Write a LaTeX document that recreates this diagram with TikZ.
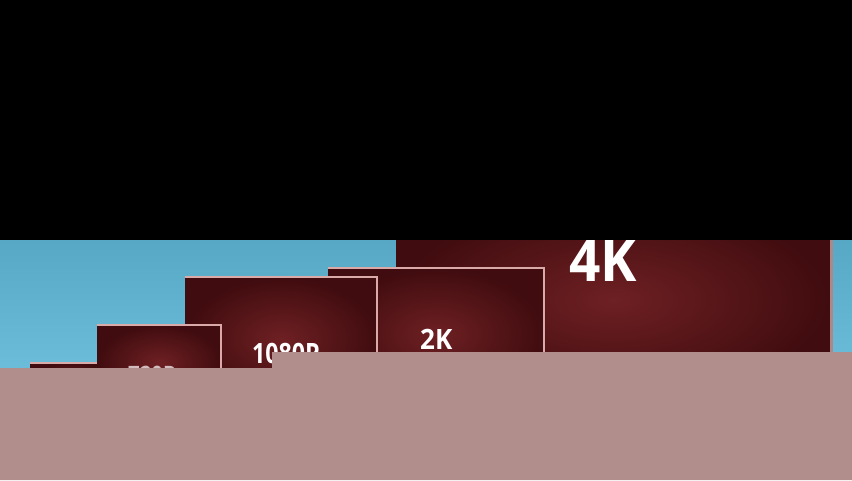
\documentclass[tikz,border=0pt]{standalone}
\usepackage{fontspec}
\setmainfont{Open Sans}
\definecolor{skytop}{HTML}{57A8C5}
\definecolor{skybot}{HTML}{6CBDDA}
\definecolor{panelin}{HTML}{6E2023}
\definecolor{panelout}{HTML}{400C0F}
\definecolor{rim}{HTML}{D9AAA8}
\definecolor{band}{HTML}{B18D8C}
\tikzset{
  panel/.style={inner color=panelin, outer color=panelout},
  rimline/.style={draw=rim, line width=2pt, line cap=rect},
  label/.style={inner sep=0pt, anchor=base west, text=white, font=\bfseries}
}
\begin{document}
\begin{tikzpicture}[x=1pt,y=-1pt]
\useasboundingbox (0,0) rectangle (852,480);
\fill[black] (0,0) rectangle (852,480);
\shade[top color=skytop, bottom color=skybot] (0,240) rectangle (852,372);
% 4K panel
\shade[panel] (396,200) rectangle (831,400);
\draw[draw=rim!80!black, line width=2.5pt] (831.5,200) -- (831.5,400);
\node[label, font=\bfseries\fontsize{59}{59}\selectfont, xscale=0.93] (t4k) at (569,281) {4K};
% 2K panel
\shade[panel] (328,268) rectangle (545,400);
\draw[rimline] (329,268) -- (544,268) -- (544,400);
\node[label, font=\bfseries\fontsize{28}{28}\selectfont, xscale=0.93] (t2k) at (420,349) {2K};
% 1080P panel
\shade[panel] (185,277) rectangle (378,400);
\draw[rimline] (186,277) -- (377,277) -- (377,400);
\node[label, font=\bfseries\fontsize{28}{28}\selectfont, xscale=0.83] (t1080) at (252,363) {1080P};
% smallest panel
\shade[panel] (30,363) rectangle (110,400);
\draw[rimline] (31,363) -- (110,363);
% 720P panel
\shade[panel] (97,325) rectangle (222,400);
\draw[rimline] (98,325) -- (221,325) -- (221,400);
\node[label, font=\bfseries\fontsize{24}{24}\selectfont, xscale=0.85, text=white!70!panelin] (t720) at (128,383) {720P};
% lower band
\fill[band] (0,368) -- (272,368) -- (272,352) -- (852,352) -- (852,480) -- (0,480) -- cycle;
% top black band
\fill[black] (0,0) rectangle (852,240);
\end{tikzpicture}
\end{document}
